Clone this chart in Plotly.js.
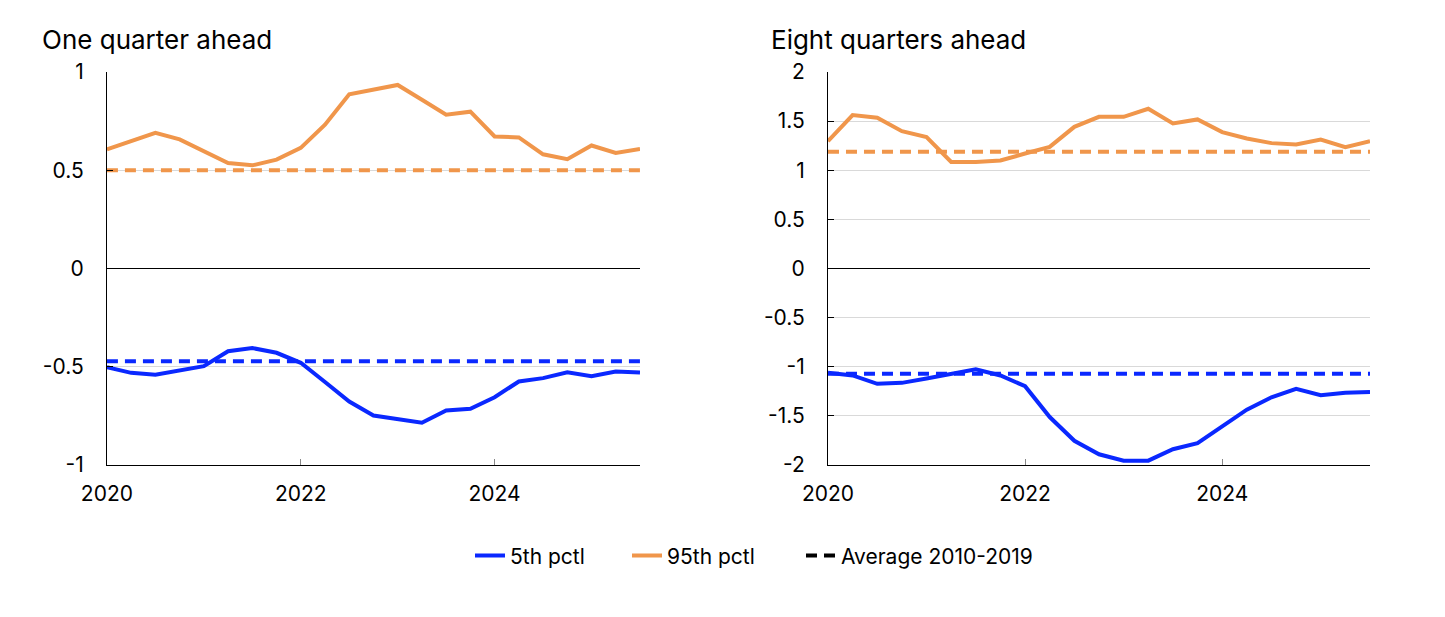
<!DOCTYPE html>
<html>
<head>
<meta charset="utf-8">
<script src="https://cdn.plot.ly/plotly-3.0.1.min.js"></script>
<style>html,body{margin:0;padding:0;background:#fff;}#chart{width:1445px;height:617px;}</style>
</head>
<body>
<div id="chart"></div>
<script>
// Quarterly dates 2020Q1 .. 2025Q3
const quarters = [2020,2020.25,2020.5,2020.75,2021,2021.25,2021.5,2021.75,2022,2022.25,2022.5,2022.75,2023,2023.25,2023.5,2023.75,2024,2024.25,2024.5,2024.75,2025,2025.25,2025.5];

// One quarter ahead
const oneQ_p5  = [-0.502,-0.531,-0.541,-0.519,-0.497,-0.421,-0.405,-0.429,-0.480,-0.578,-0.677,-0.748,-0.765,-0.785,-0.723,-0.714,-0.655,-0.575,-0.558,-0.528,-0.548,-0.524,-0.529];
const oneQ_p95 = [0.606,0.646,0.690,0.657,0.598,0.537,0.525,0.554,0.614,0.732,0.887,0.912,0.934,0.859,0.783,0.798,0.672,0.667,0.581,0.556,0.626,0.588,0.608];
const oneQ_avg_p5 = -0.472;
const oneQ_avg_p95 = 0.5;

// Eight quarters ahead
const eightQ_p5  = [-1.061,-1.089,-1.174,-1.164,-1.119,-1.072,-1.027,-1.089,-1.198,-1.512,-1.754,-1.891,-1.956,-1.956,-1.840,-1.778,-1.608,-1.437,-1.311,-1.225,-1.290,-1.266,-1.256];
const eightQ_p95 = [1.296,1.561,1.534,1.398,1.337,1.085,1.085,1.099,1.170,1.238,1.442,1.544,1.544,1.626,1.476,1.517,1.388,1.323,1.276,1.262,1.313,1.235,1.296];
const eightQ_avg_p5 = -1.072;
const eightQ_avg_p95 = 1.187;

const xTickVals = [2020, 2022, 2024];
const xTickText = ['2020', '2022', '2024'];
const y1TickVals = [-1, -0.5, 0, 0.5, 1];
const y1TickText = ['-1', '-0.5', '0', '0.5', '1'];
const y2TickVals = [-2, -1.5, -1, -0.5, 0, 0.5, 1, 1.5, 2];
const y2TickText = ['-2', '-1.5', '-1', '-0.5', '0', '0.5', '1', '1.5', '2'];

const seriesNames = ['5th pctl', '95th pctl', 'Average 2010-2019'];
const panelTitles = ['One quarter ahead', 'Eight quarters ahead'];

const BLUE = '#0a28ff';
const ORANGE = '#f0964b';
const LW = 4;
const DASH = '11px,7px';

const flat = v => quarters.map(() => v);

const traces = [
  {x: quarters, y: flat(oneQ_avg_p95), type: 'scatter', mode: 'lines', line: {color: ORANGE, width: LW, dash: DASH}, showlegend: false, xaxis: 'x', yaxis: 'y'},
  {x: quarters, y: flat(oneQ_avg_p5), type: 'scatter', mode: 'lines', line: {color: BLUE, width: LW, dash: DASH}, showlegend: false, xaxis: 'x', yaxis: 'y'},
  {x: quarters, y: oneQ_p95, type: 'scatter', mode: 'lines', line: {color: ORANGE, width: LW}, showlegend: false, xaxis: 'x', yaxis: 'y'},
  {x: quarters, y: oneQ_p5, type: 'scatter', mode: 'lines', line: {color: BLUE, width: LW}, showlegend: false, xaxis: 'x', yaxis: 'y'},
  {x: quarters, y: flat(eightQ_avg_p95), type: 'scatter', mode: 'lines', line: {color: ORANGE, width: LW, dash: DASH}, showlegend: false, xaxis: 'x2', yaxis: 'y2'},
  {x: quarters, y: flat(eightQ_avg_p5), type: 'scatter', mode: 'lines', line: {color: BLUE, width: LW, dash: DASH}, showlegend: false, xaxis: 'x2', yaxis: 'y2'},
  {x: quarters, y: eightQ_p95, type: 'scatter', mode: 'lines', line: {color: ORANGE, width: LW}, showlegend: false, xaxis: 'x2', yaxis: 'y2'},
  {x: quarters, y: eightQ_p5, type: 'scatter', mode: 'lines', line: {color: BLUE, width: LW}, showlegend: false, xaxis: 'x2', yaxis: 'y2'},
  // legend entries
  {x: [null], y: [null], type: 'scatter', mode: 'lines', name: seriesNames[0], legendwidth: 112, line: {color: BLUE, width: LW}, xaxis: 'x', yaxis: 'y'},
  {x: [null], y: [null], type: 'scatter', mode: 'lines', name: seriesNames[1], legendwidth: 129, line: {color: ORANGE, width: LW}, xaxis: 'x', yaxis: 'y'},
  {x: [null], y: [null], type: 'scatter', mode: 'lines', name: seriesNames[2], legendwidth: 230, line: {color: '#000', width: LW, dash: DASH}, xaxis: 'x', yaxis: 'y'}
];

const FONT = 'Inter, "Open Sans", sans-serif';

const xCommon = {
  range: [2020, 2025.5], tickvals: xTickVals, ticktext: xTickText,
  showline: true, linecolor: '#000', linewidth: 1,
  ticks: 'inside', ticklen: 6, tickcolor: '#888', tickwidth: 1,
  showgrid: false, zeroline: false, fixedrange: true,
  tickfont: {size: 21, color: '#000', family: FONT}, ticklabelstandoff: 10
};
const yCommon = {
  showline: true, linecolor: '#000', linewidth: 1,
  ticks: 'inside', ticklen: 6, tickcolor: '#000', tickwidth: 1,
  showgrid: true, gridcolor: '#d9d9d9', gridwidth: 1,
  zeroline: true, zerolinecolor: '#000', zerolinewidth: 1,
  fixedrange: true, tickfont: {size: 21, color: '#000', family: FONT}, ticklabelstandoff: 18
};

const layout = {
  width: 1445, height: 617,
  margin: {l: 0, r: 0, t: 0, b: 0},
  paper_bgcolor: '#fff', plot_bgcolor: '#fff',
  font: {family: FONT, color: '#000', size: 21},
  showlegend: true,
  legend: {orientation: 'h', x: 470/1445, y: 0.099, xanchor: 'left', yanchor: 'middle', font: {size: 21, family: FONT, color: '#000'}, itemwidth: 30, tracegroupgap: 0, bgcolor: 'rgba(0,0,0,0)'},
  xaxis: Object.assign({}, xCommon, {domain: [0.0740, 0.4429], anchor: 'y'}),
  yaxis: Object.assign({}, yCommon, {domain: [0.2464, 0.8833], range: [-1, 1], tickvals: y1TickVals, ticktext: y1TickText, anchor: 'x'}),
  xaxis2: Object.assign({}, xCommon, {domain: [0.5730, 0.9481], anchor: 'y2'}),
  yaxis2: Object.assign({}, yCommon, {domain: [0.2464, 0.8833], range: [-2, 2], tickvals: y2TickVals, ticktext: y2TickText, anchor: 'x2'}),
  annotations: [
    {text: panelTitles[0], xref: 'paper', yref: 'paper', x: 40/1445, y: 1 - 40/617, xanchor: 'left', yanchor: 'middle', showarrow: false, font: {size: 26, family: FONT, color: '#000'}},
    {text: panelTitles[1], xref: 'paper', yref: 'paper', x: 769/1445, y: 1 - 40/617, xanchor: 'left', yanchor: 'middle', showarrow: false, font: {size: 26, family: FONT, color: '#000'}}
  ]
};

Plotly.newPlot('chart', traces, layout, {displayModeBar: false, staticPlot: true});
</script>
</body>
</html>
